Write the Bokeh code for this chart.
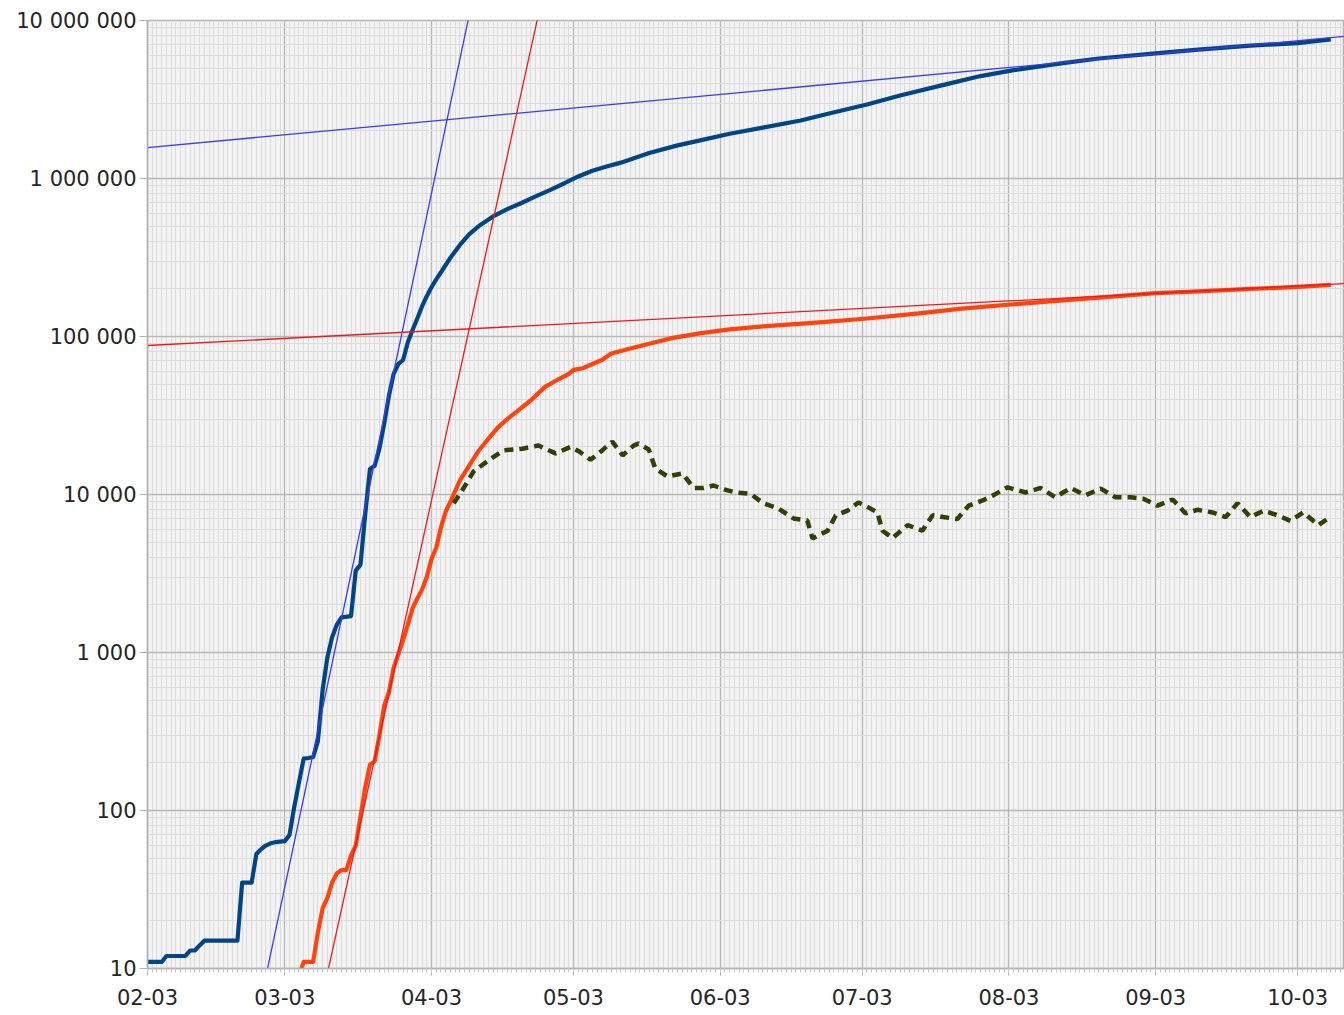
import pandas as pd
from bokeh.plotting import figure
from bokeh.models import Range1d, FixedTicker
from bokeh.embed import file_html
from bokeh.resources import INLINE

START = pd.Timestamp("2020-02-03")

# ---- data (days counted from 2020-02-03) ----
cases_day = [0, 3, 4, 8, 9, 10, 11, 12, 19, 20, 22, 23, 24, 25, 26, 27, 29, 30, 31, 32,
             33, 34, 35, 36, 37, 38, 39, 40, 41, 43, 44, 45, 46, 47, 48, 49, 50, 51, 52, 53,
             54, 55, 56, 57, 58, 59, 60, 61, 62, 64, 66, 68, 70, 73, 76, 79, 82, 85, 88, 91,
             94, 97, 100, 106, 112, 117, 123, 130, 138, 144, 152, 159, 168, 176, 183, 193, 201, 213, 222, 233,
             243, 250]
cases_val = [11, 11, 12, 12, 13, 13, 14, 15, 15, 35, 35, 53, 57, 60, 62, 63, 64, 70, 105, 150,
             213, 215, 218, 275, 580, 930, 1250, 1500, 1670, 1700, 3300, 3600, 7500, 14500, 15200, 19500, 28000, 42000, 58000, 67000,
             71000, 92000, 110000, 130000, 155000, 180000, 205000, 230000, 255000, 315000, 380000, 445000, 500000, 575000, 640000, 700000, 770000, 845000, 930000, 1030000,
             1120000, 1190000, 1260000, 1450000, 1620000, 1750000, 1920000, 2100000, 2330000, 2580000, 2940000, 3350000, 3900000, 4450000, 4850000, 5350000, 5750000, 6200000, 6550000, 6930000,
             7200000, 7600000]

deaths_day = [32, 33, 35, 36, 37, 38, 39, 40, 41, 42, 43, 44, 45, 46, 47, 48, 49, 50, 51, 52,
              53, 54, 55, 56, 57, 58, 59, 60, 61, 62, 63, 64, 66, 68, 70, 72, 74, 76, 78, 81,
              84, 87, 89, 90, 92, 94, 96, 98, 102, 106, 111, 117, 123, 130, 142, 152, 163, 172, 183, 192,
              201, 213, 222, 233, 243, 250]
deaths_val = [9, 11, 11, 17, 24, 28, 35, 40, 42, 42, 52, 60, 92, 140, 195, 205, 300, 460, 560, 800,
              980, 1200, 1500, 1900, 2200, 2500, 3000, 3900, 4600, 6200, 7800, 9000, 12300, 15300, 19000, 22500, 26500, 30000, 33500, 39500,
              48000, 54000, 58000, 61500, 63000, 67000, 71000, 78000, 84000, 90000, 98000, 105000, 111000, 116000, 123000, 130000, 140000, 150000, 160000, 168000,
              176000, 188000, 193000, 200000, 206000, 212000]

daily_day = [64.7, 66.8, 68.9, 72.0, 75.2, 79.2, 82.6, 86.2, 89.4, 91.1, 93.6, 96.3, 98.2, 100.4, 102.7, 103.7, 105.9, 107.3, 109.9, 113.0,
             115.4, 117.5, 119.6, 121.7, 124.2, 127.4, 130.1, 133.3, 136.5, 139.4, 140.5, 143.7, 145.4, 147.9, 150.2, 151.3, 154.2, 155.3, 157.4, 160.6,
             163.7, 165.9, 168.0, 171.1, 173.5, 176.6, 178.7, 181.7, 185.5, 188.7, 191.8, 195.0, 198.2, 201.4, 204.5, 207.7, 210.4, 213.4, 216.6, 219.3,
             221.8, 225.0, 227.8, 230.3, 233.0, 235.8, 238.7, 241.5, 244.2, 247.4, 249.9]
daily_val = [8800, 11000, 14000, 16400, 19000, 19500, 20400, 18200, 20000, 18800, 16600, 19300, 21600, 17700, 20400, 21000, 19300, 14600, 13000, 13600,
             11000, 11000, 11400, 10800, 10300, 10100, 8800, 8150, 7050, 6840, 5270, 5900, 7360, 7900, 8900, 8600, 7700, 5900, 5300, 6400,
             5900, 7400, 7200, 7000, 8500, 9200, 9900, 11100, 10300, 11000, 9600, 11000, 9900, 10900, 9600, 9600, 9400, 8500, 9300, 7600,
             8000, 7700, 7200, 8800, 7200, 7900, 7400, 6800, 7700, 6400, 7200]

trend_cases_fast_day = [24, 70]
trend_cases_fast_val = [6.4, 2.1e7]
trend_deaths_fast_day = [37, 83]
trend_deaths_fast_val = [6.78, 1.24e7]
trend_cases_slow_day = [0, 260]
trend_cases_slow_val = [1.57e6, 8.3e6]
trend_deaths_slow_day = [0, 260]
trend_deaths_slow_val = [87700, 222000]

month_ticks = ["2020-02-03", "2020-03-03", "2020-04-03", "2020-05-03", "2020-06-03",
               "2020-07-03", "2020-08-03", "2020-09-03", "2020-10-03"]
month_labels = ["02-03", "03-03", "04-03", "05-03", "06-03", "07-03", "08-03", "09-03", "10-03"]
y_ticks = [10, 100, 1000, 10000, 100000, 1000000, 10000000]
y_labels = ["10", "100", "1 000", "10 000", "100 000", "1 000 000", "10 000 000"]

assert len(cases_day) == len(cases_val)
assert len(deaths_day) == len(deaths_val)
assert len(daily_day) == len(daily_val)


def dates(days):
    return [START + pd.Timedelta(days=d) for d in days]


def ms(ts):
    return float(pd.Timestamp(ts).value // 10**6)


FONT = "DejaVu Sans"
GRID_MAJOR = "#b8b8b8"
GRID_MINOR = "#dcdcdc"

p = figure(width=1344, height=1015, x_axis_type="datetime", y_axis_type="log",
           x_range=Range1d(START, START + pd.Timedelta(days=252.9)),
           y_range=Range1d(10, 1e7),
           output_backend="svg", toolbar_location=None,
           min_border_left=147, min_border_right=0, min_border_top=20, min_border_bottom=47,
           background_fill_color="#f3f3f3", border_fill_color="white",
           outline_line_color="#b3b3b3", outline_line_width=1.5)

x_major = [ms(t) for t in month_ticks]
x_minor = [ms(START) + i * 86400000.0 for i in range(0, 254)]
p.xaxis.ticker = FixedTicker(ticks=x_major, minor_ticks=x_minor)
p.xaxis.major_label_overrides = {k: v for k, v in zip(x_major, month_labels)}

y_minor = [float(m * 10 ** k) for k in range(1, 7) for m in range(2, 10)]
p.yaxis.ticker = FixedTicker(ticks=[float(v) for v in y_ticks], minor_ticks=y_minor)
p.yaxis.major_label_overrides = {float(k): v for k, v in zip(y_ticks, y_labels)}

for ax in (p.xaxis[0], p.yaxis[0]):
    ax.axis_line_color = "#b3b3b3"
    ax.axis_line_width = 1.5
    ax.major_tick_line_color = "#b3b3b3"
    ax.minor_tick_line_color = "#c8c8c8"
    ax.major_tick_in = 0
    ax.minor_tick_in = 0
    ax.major_label_text_font = FONT
    ax.major_label_text_font_size = "21px"
    ax.major_label_text_color = "#262626"

p.xaxis.major_tick_out = 7
p.xaxis.minor_tick_out = 4
p.xaxis.major_label_standoff = 13
p.yaxis.major_tick_out = 8
p.yaxis.minor_tick_out = 0
p.yaxis.major_label_standoff = 3

for g in (p.xgrid[0], p.ygrid[0]):
    g.grid_line_color = GRID_MAJOR
    g.grid_line_width = 1.3
    g.minor_grid_line_color = GRID_MINOR
    g.minor_grid_line_width = 1

# series
p.line(dates(cases_day), cases_val, line_color="#004586", line_width=4.2, line_join="round")
p.line(dates(deaths_day), deaths_val, line_color="#ff420e", line_width=4.2, line_join="round")
p.line(dates(daily_day), daily_val, line_color="#314004", line_width=4.5, line_dash="9 6")

# trend lines
p.line(dates(trend_cases_fast_day), trend_cases_fast_val, line_color="#3a3af0", line_width=1.3)
p.line(dates(trend_cases_slow_day), trend_cases_slow_val, line_color="#3a3af0", line_width=1.3)
p.line(dates(trend_deaths_fast_day), trend_deaths_fast_val, line_color="#e81c1c", line_width=1.3)
p.line(dates(trend_deaths_slow_day), trend_deaths_slow_val, line_color="#e81c1c", line_width=1.3)

open("out.html", "w").write(file_html(p, INLINE))
